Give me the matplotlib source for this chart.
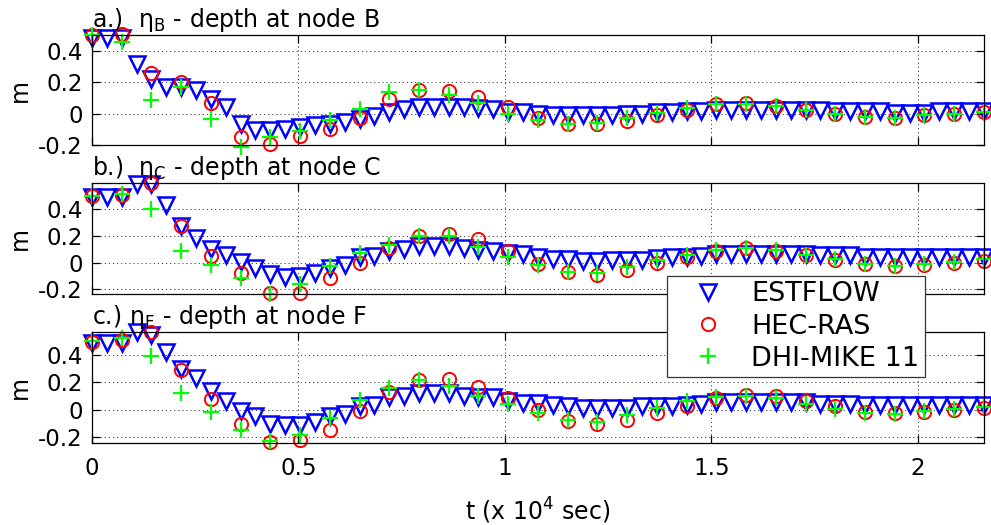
import numpy as np
import matplotlib
matplotlib.use('Agg')
import matplotlib.pyplot as plt
from matplotlib.lines import Line2D

plt.rcParams['font.family'] = ['DejaVu Sans']

# time axis (x 10^4 s): ESTFLOW every 360 s, HEC-RAS / MIKE 11 every 720 s
t_est = np.arange(61) * 0.036
t_obs = t_est[::2]

# node B
est_B = [0.485, 0.485, 0.485, 0.32, 0.225, 0.17, 0.17, 0.15, 0.095, 0.045,
         -0.065, -0.105, -0.105, -0.1, -0.085, -0.075, -0.065, -0.055, -0.035, -0.015,
         0.01, 0.03, 0.04, 0.045, 0.045, 0.04, 0.035, 0.03, 0.012, 0.012,
         0.0, -0.01, -0.01, -0.01, -0.01, -0.01, 0.0, 0.0, 0.01, 0.01,
         0.017, 0.017, 0.026, 0.026, 0.026, 0.026, 0.026, 0.026, 0.026, 0.026,
         0.017, 0.017, 0.017, 0.017, 0.005, 0.005, 0.005, 0.015, 0.015, 0.015,
         0.015]
hec_B = [0.50, 0.51, 0.26, 0.20, 0.068, -0.149, -0.196, -0.145, -0.096, -0.026,
         0.096, 0.153, 0.145, 0.106, 0.043, -0.026, -0.068, -0.068, -0.047, -0.011,
         0.026, 0.064, 0.068, 0.047, 0.021, 0.0, -0.021, -0.026, -0.011, 0.0,
         0.011]
mike_B = [0.50, 0.457, 0.089, 0.17, -0.032, -0.213, -0.149, -0.111, -0.043, 0.032,
          0.138, 0.149, 0.117, 0.068, 0.0, -0.038, -0.068, -0.06, -0.026, 0.004,
          0.038, 0.06, 0.064, 0.047, 0.021, 0.0, -0.021, -0.026, -0.011, 0.0,
          0.011]

# node C
est_C = [0.49, 0.49, 0.49, 0.59, 0.59, 0.433, 0.275, 0.183, 0.1, 0.058,
         0.008, -0.043, -0.085, -0.105, -0.1, -0.08, -0.043, -0.018, 0.04, 0.05,
         0.083, 0.1, 0.125, 0.125, 0.125, 0.108, 0.095, 0.09, 0.07, 0.065,
         0.045, 0.03, 0.025, 0.015, 0.015, 0.02, 0.02, 0.02, 0.033, 0.045,
         0.045, 0.05, 0.065, 0.065, 0.065, 0.065, 0.065, 0.065, 0.065, 0.058,
         0.058, 0.058, 0.045, 0.045, 0.045, 0.045, 0.045, 0.045, 0.045, 0.045,
         0.045]
hec_C = [0.50, 0.507, 0.595, 0.27, 0.05, -0.08, -0.23, -0.23, -0.118, -0.005,
         0.107, 0.2, 0.215, 0.18, 0.083, -0.01, -0.068, -0.093, -0.055, -0.005,
         0.04, 0.09, 0.108, 0.09, 0.058, 0.02, -0.01, -0.025, -0.018, -0.005,
         0.015]
mike_C = [0.5, 0.515, 0.4, 0.09, -0.018, -0.118, -0.235, -0.16, -0.025, 0.07,
          0.133, 0.2, 0.2, 0.115, 0.045, -0.018, -0.068, -0.08, -0.035, 0.02,
          0.058, 0.095, 0.108, 0.095, 0.058, 0.025, -0.01, -0.025, -0.01, 0.008,
          0.025]

# node F
est_F = [0.49, 0.49, 0.49, 0.569, 0.544, 0.422, 0.299, 0.233, 0.135, 0.061,
         -0.012, -0.044, -0.103, -0.11, -0.11, -0.093, -0.049, -0.029, 0.025, 0.037,
         0.093, 0.098, 0.118, 0.118, 0.118, 0.103, 0.093, 0.09, 0.06, 0.049,
         0.049, 0.03, 0.025, 0.012, 0.012, 0.012, 0.012, 0.025, 0.025, 0.025,
         0.037, 0.04, 0.054, 0.054, 0.054, 0.054, 0.054, 0.054, 0.054, 0.044,
         0.044, 0.044, 0.034, 0.034, 0.034, 0.034, 0.034, 0.034, 0.034, 0.034,
         0.034]
hec_F = [0.495, 0.51, 0.564, 0.29, 0.078, -0.103, -0.24, -0.22, -0.152, -0.012,
         0.127, 0.213, 0.22, 0.167, 0.086, 0.0, -0.086, -0.103, -0.078, -0.025,
         0.029, 0.086, 0.11, 0.098, 0.061, 0.029, -0.02, -0.025, -0.02, -0.005,
         0.012]
mike_F = [0.502, 0.52, 0.392, 0.123, -0.02, -0.152, -0.233, -0.184, -0.061, 0.069,
          0.159, 0.216, 0.176, 0.103, 0.044, -0.025, -0.078, -0.093, -0.037, 0.012,
          0.061, 0.093, 0.098, 0.086, 0.044, 0.005, -0.025, -0.029, -0.012, 0.005,
          0.02]

titles = ['a.)  $\\mathregular{\\eta_B}$ - depth at node B',
          'b.)  $\\mathregular{\\eta_C}$ - depth at node C',
          'c.) $\\mathregular{\\eta_F}$ - depth at node F']
ylims = [(-0.2, 0.503), (-0.235, 0.595), (-0.244, 0.567)]
panels = [(est_B, hec_B, mike_B), (est_C, hec_C, mike_C), (est_F, hec_F, mike_F)]
boxes = [[0.0928, 0.7238, 0.9001, 0.2095],
         [0.0928, 0.4400, 0.9001, 0.2114],
         [0.0928, 0.1562, 0.9001, 0.2114]]

est_style = dict(ls='none', marker='v', ms=11.5, mfc='none', mec='#0000ff', mew=1.8)
hec_style = dict(ls='none', marker='o', ms=9.5, mfc='none', mec='#ff0000', mew=1.4)
mike_style = dict(ls='none', marker='+', ms=11, mec='#00ff00', mew=1.6)

fig = plt.figure(figsize=(9.91, 5.25), dpi=100)

for k in range(3):
    ax = fig.add_axes(boxes[k])
    est, hec, mike = panels[k]
    ax.plot(t_est, est, clip_on=False, **est_style)
    ax.plot(t_obs, hec, clip_on=False, **hec_style)
    ax.plot(t_obs, mike, clip_on=False, **mike_style)
    ax.set_xlim(0, 2.16)
    ax.set_ylim(*ylims[k])
    ax.set_xticks([0, 0.5, 1, 1.5, 2])
    ax.set_yticks([-0.2, 0, 0.2, 0.4])
    ax.set_yticklabels(['-0.2', '0', '0.2', '0.4'])
    if k == 2:
        ax.set_xticklabels(['0', '0.5', '1', '1.5', '2'])
    else:
        ax.set_xticklabels([])
    ax.tick_params(direction='in', top=True, right=True, length=6, width=0.9,
                   labelsize=16.5)
    ax.tick_params(axis='x', pad=10)
    ax.tick_params(axis='y', pad=6.5)
    ax.grid(True, color='0.25', linestyle=(0, (1.2, 3)), linewidth=0.7)
    for s in ax.spines.values():
        s.set_linewidth(0.9)
    ax.set_ylabel('m', fontsize=17)
    ax.yaxis.set_label_coords(-0.067, 0.5)
    ax.text(0.0, 1.07, titles[k], transform=ax.transAxes, fontsize=17,
            ha='left', va='baseline')

fig.text(538 / 991, 1 - 520 / 525, 't (x 10$^4$ sec)', fontsize=17,
         ha='center', va='baseline')

handles = [Line2D([], [], **est_style),
           Line2D([], [], **hec_style),
           Line2D([], [], **mike_style)]
leg = fig.legend(handles, ['ESTFLOW', 'HEC-RAS', 'DHI-MIKE 11'],
                 loc='upper left', bbox_to_anchor=(667 / 991, 1 - 276 / 525),
                 borderaxespad=0, fontsize=19.5, numpoints=1, fancybox=False,
                 edgecolor='0.2', framealpha=1, borderpad=0.2, labelspacing=0.23,
                 handlelength=2.6, handletextpad=0.3)
leg.get_frame().set_linewidth(0.9)

fig.savefig('out.png', dpi=100)
